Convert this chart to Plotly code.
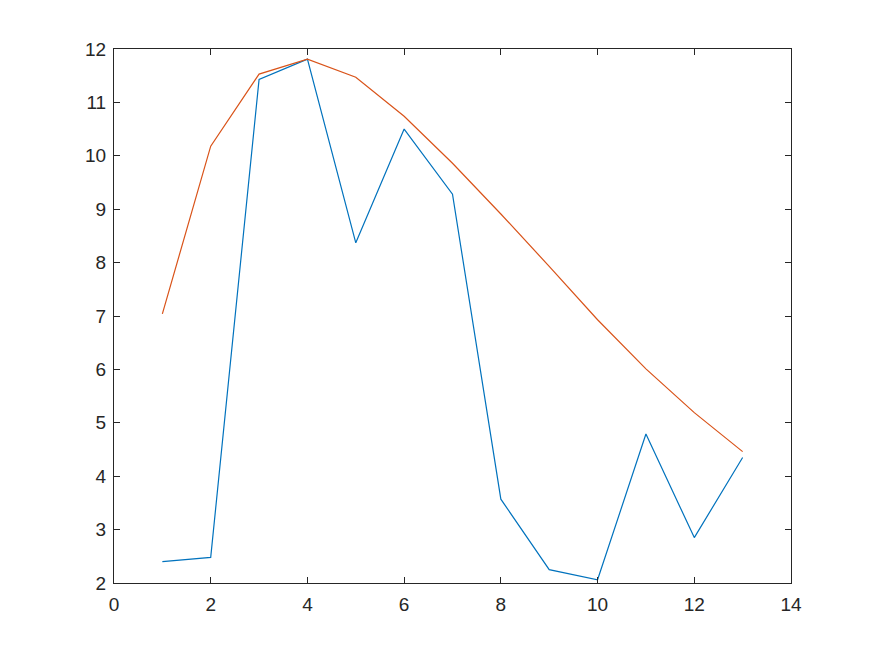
import plotly.graph_objects as go

x_vals = list(range(1, 14))
blue_vals = [2.40, 2.48, 11.43, 11.81, 8.37, 10.50, 9.28, 3.57, 2.25, 2.06, 4.79, 2.85, 4.35]
orange_vals = [7.04, 10.18, 11.53, 11.81, 11.47, 10.74, 9.86, 8.91, 7.93, 6.93, 6.01, 5.19, 4.46]

axis_style = dict(
    showgrid=False,
    zeroline=False,
    showline=True,
    linecolor="#262626",
    linewidth=1,
    mirror="ticks",
    ticks="inside",
    ticklen=6,
    tickcolor="#262626",
    tickfont=dict(family="Liberation Sans, Arial, sans-serif", size=19, color="#262626"),
)

fig = go.Figure()
fig.add_trace(go.Scatter(x=x_vals, y=blue_vals, mode="lines",
                         line=dict(color="#0072BD", width=1.2)))
fig.add_trace(go.Scatter(x=x_vals, y=orange_vals, mode="lines",
                         line=dict(color="#D95319", width=1.2)))

fig.update_xaxes(range=[0, 14], dtick=2, ticklabelstandoff=4, **axis_style)
fig.update_yaxes(range=[2, 12], dtick=1, ticklabelstandoff=3, **axis_style)

# page body adds 8px offset, so margins are shifted to keep the plot box in place
fig.update_layout(
    width=875,
    height=656,
    showlegend=False,
    paper_bgcolor="white",
    plot_bgcolor="white",
    margin=dict(l=106, r=92, t=41, b=81),
)

fig.write_html("out.html")
